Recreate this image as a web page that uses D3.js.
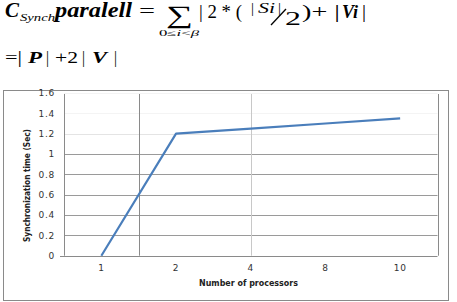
<!DOCTYPE html>
<html><head><meta charset="utf-8">
<script src="https://cdn.jsdelivr.net/npm/d3@7"></script>
<style>body{margin:0;background:#fff}svg{display:block}
.fm text{font-family:"Liberation Serif","Times New Roman",Times,"DejaVu Serif",serif}</style>
</head><body>
<svg id="c" width="457" height="302"></svg>
<script>
const categories = ["1", "2", "4", "8", "10"];
const values = [0, 1.2, 1.25, 1.3, 1.35];
const yTicks = [0, 0.2, 0.4, 0.6, 0.8, 1, 1.2, 1.4, 1.6];
const xTitle = "Number of processors";
const yTitle = "Synchronization time (Sec)";

(function () {
const svg = d3.select("#c");

const f = svg.append("g").attr("class", "fm").attr("fill", "#000");
function t(x, y, s, size, len, opts = {}) {
  const e = f.append("text").attr("x", x).attr("y", y).style("font-size", size + "px")
    .style("font-weight", opts.w || "bold").style("font-style", opts.i === false ? "normal" : "italic").text(s);
  if (len) e.attr("textLength", len).attr("lengthAdjust", "spacingAndGlyphs");
  return e;
}
// Formula line 1
t(5, 17, "C", 20, 14);
t(20, 21, "Synch", 11, 35, {w: "normal"});
t(55, 17, "paralell", 20, 77);
t(139, 17, "=", 19, 16, {i: false, w: "normal"});
t(166, 23, "\u2211", 25, 27, {i: false, w: "normal"});
const sub = f.append("text").attr("x", 159).attr("y", 36).style("font-size", "8.5px").style("font-weight", "normal")
  .attr("textLength", 40).attr("lengthAdjust", "spacingAndGlyphs");
sub.append("tspan").text("0\u2264");
sub.append("tspan").style("font-style", "italic").text("i");
sub.append("tspan").text("<");
sub.append("tspan").style("font-style", "italic").text("\u03B2");
t(199, 18, "| 2 * (", 19, 43, {i: false, w: "normal"});
t(251, 13, "|", 15, 3, {i: false, w: "normal"});
t(258, 13, "Si", 15, 17, {w: "normal"});
t(278, 13, "|", 15, 3, {i: false, w: "normal"});
f.append("line").attr("x1", 271).attr("y1", 25).attr("x2", 286).attr("y2", 9).attr("stroke", "#000").attr("stroke-width", 1.3);
t(285, 25, "2", 19, 16, {i: false, w: "normal"});
t(302, 18, ")+ |", 19, 38, {i: false, w: "normal"});
t(342, 18, "Vi", 19, 16);
t(362, 18, "|", 19, 4, {i: false, w: "normal"});
// Formula line 2
t(5, 63, "=|", 16, 17, {i: false, w: "normal"});
t(28, 63, "P", 16, 14);
t(46, 63, "|", 16, 3, {i: false, w: "normal"});
t(55, 63, "+2", 16, 23, {i: false, w: "normal"});
t(82, 63, "|", 16, 3, {i: false, w: "normal"});
t(92, 63, "V", 16, 15);
t(114, 63, "|", 16, 3, {i: false, w: "normal"});

// Chart frame
svg.append("rect").attr("x", 3.5).attr("y", 90.5).attr("width", 445).attr("height", 210)
  .attr("fill", "#fff").attr("stroke", "#8a8a8a").attr("stroke-width", 1);

const pl = 64, pr = 437.5, pt = 93, pb = 255.7;
const x = d3.scaleBand().domain(categories).range([pl, pr]);
const y = d3.scaleLinear().domain([0, 1.6]).range([pb, pt]);
const sans = "DejaVu Sans, Verdana, sans-serif";

// horizontal grid
const gridColor = v => v <= 1.0001 ? "#9a9a9a" : (v < 1.3 ? "#e4e4e4" : "#f4f4f4");
svg.append("g").selectAll("line").data(yTicks.filter(v => v > 0)).join("line")
  .attr("x1", pl).attr("x2", pr)
  .attr("y1", d => Math.round(y(d)) + 0.5).attr("y2", d => Math.round(y(d)) + 0.5)
  .attr("stroke", d => gridColor(d)).attr("stroke-width", 1);

// vertical lines
const vx = [x.range()[0], x("2"), x("4") + x.bandwidth() / 2, x.range()[1]];
svg.append("g").selectAll("line").data(vx).join("line")
  .attr("x1", d => Math.round(d) + 0.5).attr("x2", d => Math.round(d) + 0.5)
  .attr("y1", pt + 1).attr("y2", pb)
  .attr("stroke", (d, i) => i === 2 ? "#c8c8c8" : "#8a8a8a").attr("stroke-width", 1);

// y axis
const ya = svg.append("g").attr("transform", `translate(${pl},0)`)
  .call(d3.axisLeft(y).tickValues(yTicks).tickSize(0).tickPadding(9).tickFormat(d => String(+d.toFixed(1))));
ya.select(".domain").remove();
ya.selectAll("text").attr("font-family", sans).attr("font-size", 9).attr("fill", "#333").attr("letter-spacing", 0.7);

// zero axis line
svg.append("line").attr("x1", pl - 4).attr("x2", pr).attr("y1", Math.round(y(0)) + 0.5).attr("y2", Math.round(y(0)) + 0.5)
  .attr("stroke", "#8a8a8a");

// x axis labels
const xa = svg.append("g").attr("transform", `translate(0,${pb})`)
  .call(d3.axisBottom(x).tickSize(0).tickPadding(9));
xa.select(".domain").remove();
xa.selectAll("text").attr("font-family", sans).attr("font-size", 9).attr("fill", "#333").attr("letter-spacing", 0.7);

// line
const line = d3.line().x((d, i) => x(categories[i]) + x.bandwidth() / 2).y(d => y(d));
svg.append("path").datum(values).attr("d", line).attr("fill", "none")
  .attr("stroke", "#4a7ebb").attr("stroke-width", 2.2).attr("stroke-linejoin", "round");

// titles
svg.append("text").attr("x", 248.5).attr("y", 286).attr("text-anchor", "middle")
  .attr("font-family", sans).attr("font-weight", "bold").attr("font-size", 8).attr("fill", "#222")
  .attr("textLength", 99).attr("lengthAdjust", "spacingAndGlyphs").text(xTitle);
svg.append("text").attr("transform", "translate(30,185.5) rotate(-90)").attr("text-anchor", "middle")
  .attr("font-family", sans).attr("font-weight", "bold").attr("font-size", 8).attr("fill", "#222")
  .attr("textLength", 113).attr("lengthAdjust", "spacingAndGlyphs").text(yTitle);
})();
</script>
</body></html>
